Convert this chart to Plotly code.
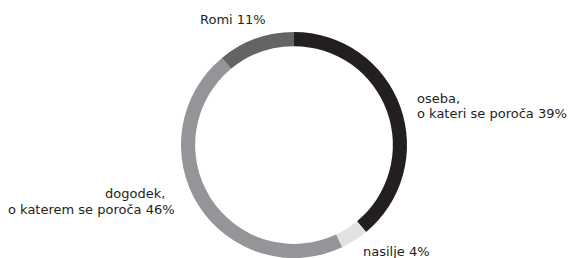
import plotly.graph_objects as go

labels = ["oseba, o kateri se poroča", "nasilje", "dogodek, o katerem se poroča", "Romi"]
values = [39, 4, 46, 11]
colors = ["#231f20", "#e1e2e3", "#939598", "#636466"]

W, H = 570, 258
cx, cy, r = 294, 145, 113

fig = go.Figure(go.Pie(
    labels=labels, values=values, sort=False, direction="clockwise", rotation=0,
    hole=0.875, textinfo="none", hoverinfo="label+percent",
    marker=dict(colors=colors, line=dict(width=0)),
    domain=dict(x=[(cx - r) / W, (cx + r) / W], y=[(H - cy - r) / H, (H - cy + r) / H]),
    showlegend=False,
))

font = dict(family="DejaVu Sans", size=13, color="#231f20")

def ann(text, px, py, anchor):
    fig.add_annotation(text=text, x=px / W, y=1 - py / H, xref="paper", yref="paper",
                       xanchor=anchor, yanchor="middle", showarrow=False, font=font)

ann(f"Romi {values[3]}%", 198, 19, "left")
ann("oseba,", 415, 98, "left")
ann(f"o kateri se poroča {values[0]}%", 415, 113, "left")
ann("dogodek,", 167, 193, "right")
ann(f"o katerem se poroča {values[2]}%", 177, 209, "right")
ann(f"nasilje {values[1]}%", 361, 251, "left")

fig.update_layout(width=W, height=H, margin=dict(l=0, r=0, t=0, b=0),
                  paper_bgcolor="white", plot_bgcolor="white")
fig.write_html("out.html", config={"displayModeBar": False},
               post_script="document.body.style.margin='0';document.body.style.overflow='hidden';")
